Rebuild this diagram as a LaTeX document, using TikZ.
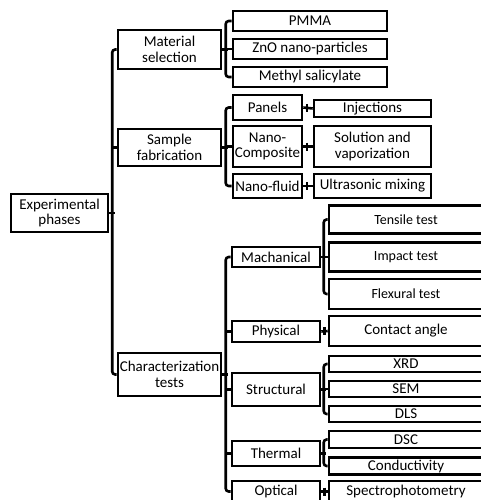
\documentclass[tikz,border=0pt]{standalone}
\usepackage{fontspec}
\setmainfont{Carlito}
\usetikzlibrary{calc}

\begin{document}
\begin{tikzpicture}[x=1pt,y=-1pt,
        box/.style={draw=black,line width=2.6pt,fill=white,inner sep=0pt,align=center,font=\fontsize{15}{15.5}\selectfont},
        small/.style={font=\fontsize{14}{14.5}\selectfont},
        link/.style={draw=black,line width=2.6pt,rounded corners=3pt}]
        \useasboundingbox (0,0) rectangle (481,500);
        \clip (0,0) rectangle (481,500);

        \node[box,minimum width=97,minimum height=38] (exp) at (59.5,213) {Experimental\\phases};

        \node[box,minimum width=103,minimum height=39] (mat) at (169.5,49.5) {Material\\selection};
        \node[box,minimum width=103,minimum height=37] (fab) at (169.5,147.5) {Sample\\fabrication};
        \node[box,minimum width=103,minimum height=43] (char) at (169.5,374.5) {Characterization\\tests};

        \node[box,minimum width=154,minimum height=20] (pmma) at (310,21) {PMMA};
        \node[box,minimum width=154,minimum height=20] (zno) at (310,49) {ZnO nano-particles};
        \node[box,minimum width=154,minimum height=20] (methyl) at (310,77) {Methyl salicylate};

        \node[box,minimum width=69,minimum height=25] (panels) at (267.5,107.5) {Panels};
        \node[box,minimum width=69,minimum height=41] (nanocomp) at (267.5,146.5) {Nano-\\Composite};
        \node[box,minimum width=69,minimum height=24] (nanofluid) at (267.5,186) {Nano-fluid};
        \node[box,minimum width=117,minimum height=17] (inj) at (372.5,108.5) {Injections};
        \node[box,minimum width=117,minimum height=41] (sol) at (372.5,146.5) {Solution and\\vaporization};
        \node[box,minimum width=117,minimum height=24] (ultra) at (372.5,186) {Ultrasonic mixing};

        \node[box,minimum width=88,minimum height=20] (mech) at (276,257) {Machanical};
        \node[box,minimum width=88,minimum height=21] (phys) at (276,331.5) {Physical};
        \node[box,minimum width=88,minimum height=33] (struct) at (276,389.5) {Structural};
        \node[box,minimum width=88,minimum height=25] (therm) at (276,453.5) {Thermal};
        \node[box,minimum width=88,minimum height=21] (opt) at (276,491.5) {Optical};

        \node[box,small,minimum width=154,minimum height=28] (tensile) at (406,219.5) {Tensile test};
        \node[box,small,minimum width=154,minimum height=29] (impact) at (406,257) {Impact test};
        \node[box,small,minimum width=154,minimum height=30] (flex) at (406,294) {Flexural test};
        \node[box,minimum width=154,minimum height=30] (contact) at (406,331) {Contact angle};
        \node[box,minimum width=154,minimum height=16] (xrd) at (406,364) {XRD};
        \node[box,minimum width=154,minimum height=16] (sem) at (406,389) {SEM};
        \node[box,minimum width=154,minimum height=16] (dls) at (406,414) {DLS};
        \node[box,minimum width=154,minimum height=17] (dsc) at (406,439.5) {DSC};
        \node[box,minimum width=154,minimum height=17] (cond) at (406,466) {Conductivity};
        \node[box,minimum width=154,minimum height=21] (spectro) at (406,491.5) {Spectrophotometry};

        % first level
        \draw[link] (exp.east) -- ++(5.5,0);
        \draw[link] (mat.west) -- ++(-4.5,0) |- (char.west);
        \draw[link] (fab.west) -- ++(-4.5,0);

        % material selection
        \draw[link] (mat.east) -- ++(6,0);
        \draw[link] (pmma.west) -- ++(-6,0) |- (methyl.west);
        \draw[link] (zno.west) -- ++(-6,0);

        % sample fabrication
        \draw[link] (fab.east) -- ++(6,0);
        \draw[link] (panels.west) -- ++(-6,0) |- (nanofluid.west);
        \draw[link] (nanocomp.west) -- ++(-6,0);
        \foreach \a/\b in {panels/inj,nanocomp/sol,nanofluid/ultra}{
            \draw[link] (\a.east) -- (\b.west);
            \draw[link] ($(\a.east)!0.4!(\b.west)$) ++(0,-4) -- ++(0,8);
        }

        % characterization tests
        \draw[link] (char.east) -- ++(6,0);
        \draw[link] (mech.west) -- ++(-5,0) |- (opt.west);
        \foreach \n in {phys,struct,therm}
            \draw[link] (\n.west) -- ++(-5,0);

        \draw[link] (mech.east) -- ++(5,0);
        \draw[link] (tensile.west) -- ++(-4,0) |- (flex.west);
        \draw[link] (impact.west) -- ++(-4,0);

        \draw[link] (struct.east) -- ++(5,0);
        \draw[link] (xrd.west) -- ++(-4,0) |- (dls.west);
        \draw[link] (sem.west) -- ++(-4,0);

        \draw[link] (therm.east) -- ++(5,0);
        \draw[link] (dsc.west) -- ++(-4,0) |- (cond.west);

        \foreach \a/\b in {phys/contact,opt/spectro}{
            \draw[link] (\a.east) -- (\b.west);
            \draw[link] ($(\a.east)!0.5!(\b.west)$) ++(0,-4) -- ++(0,8);
        }
    \end{tikzpicture}
\end{document}
